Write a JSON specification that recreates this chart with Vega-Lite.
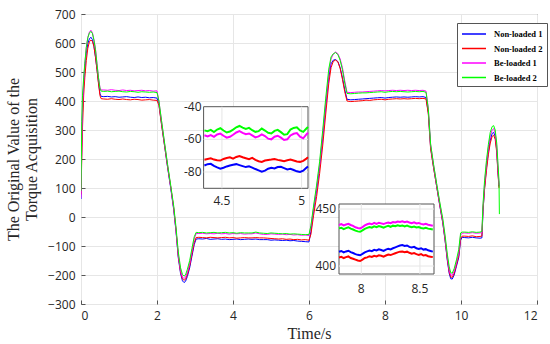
{
  "$schema": "https://vega.github.io/schema/vega-lite/v6.json",
  "width": 456,
  "height": 290,
  "autosize": {"type": "none"},
  "padding": {"left": 81, "top": 14, "right": 13, "bottom": 40},
  "background": "white",
  "config": {
    "view": {"stroke": "#555555", "strokeWidth": 1},
    "axis": {"labelFont": "Open Sans", "labelFontSize": 12, "labelColor": "#262626", "gridColor": "#e6e6e6", "domain": false},
    "text": {"font": "Open Sans", "fontSize": 12, "color": "#262626"}
  },
  "datasets": {
    "main": [
      {"t":0.00,"n1":62,"n2":78,"b1":66,"b2":90},
      {"t":0.02,"n1":240,"n2":200,"b1":260,"b2":330},
      {"t":0.04,"n1":360,"n2":310,"b1":380,"b2":420},
      {"t":0.07,"n1":455,"n2":420,"b1":465,"b2":480},
      {"t":0.10,"n1":510,"n2":480,"b1":525,"b2":530},
      {"t":0.14,"n1":565,"n2":540,"b1":585,"b2":585},
      {"t":0.18,"n1":598,"n2":582,"b1":620,"b2":618},
      {"t":0.22,"n1":614,"n2":604,"b1":637,"b2":634},
      {"t":0.26,"n1":620,"n2":610,"b1":644,"b2":640},
      {"t":0.30,"n1":612,"n2":606,"b1":636,"b2":633},
      {"t":0.34,"n1":590,"n2":588,"b1":612,"b2":610},
      {"t":0.38,"n1":553,"n2":552,"b1":580,"b2":578},
      {"t":0.42,"n1":510,"n2":508,"b1":530,"b2":528},
      {"t":0.46,"n1":465,"n2":460,"b1":482,"b2":480},
      {"t":0.50,"n1":425,"n2":418,"b1":445,"b2":442},
      {"t":0.53,"n1":416,"n2":408,"b1":438,"b2":434},
      {"t":0.6,"n1":415,"n2":407,"b1":438,"b2":433},
      {"t":0.7,"n1":416,"n2":406,"b1":437,"b2":434},
      {"t":0.8,"n1":414,"n2":408,"b1":439,"b2":432},
      {"t":0.9,"n1":415,"n2":406,"b1":437,"b2":433},
      {"t":1.0,"n1":413,"n2":405,"b1":436,"b2":434},
      {"t":1.1,"n1":414,"n2":407,"b1":438,"b2":432},
      {"t":1.2,"n1":415,"n2":405,"b1":436,"b2":431},
      {"t":1.3,"n1":413,"n2":404,"b1":437,"b2":433},
      {"t":1.4,"n1":412,"n2":406,"b1":435,"b2":432},
      {"t":1.5,"n1":414,"n2":405,"b1":436,"b2":430},
      {"t":1.6,"n1":412,"n2":403,"b1":437,"b2":432},
      {"t":1.7,"n1":413,"n2":404,"b1":435,"b2":431},
      {"t":1.8,"n1":411,"n2":405,"b1":436,"b2":430},
      {"t":1.9,"n1":412,"n2":403,"b1":434,"b2":431},
      {"t":2.0,"n1":410,"n2":402,"b1":435,"b2":429},
      {"t":2.05,"n1":390,"n2":385,"b1":400,"b2":400},
      {"t":2.12,"n1":320,"n2":318,"b1":330,"b2":332},
      {"t":2.20,"n1":245,"n2":245,"b1":252,"b2":255},
      {"t":2.28,"n1":170,"n2":172,"b1":178,"b2":180},
      {"t":2.36,"n1":100,"n2":105,"b1":105,"b2":110},
      {"t":2.44,"n1":25,"n2":30,"b1":30,"b2":38},
      {"t":2.50,"n1":-50,"n2":-45,"b1":-45,"b2":-35},
      {"t":2.56,"n1":-140,"n2":-135,"b1":-130,"b2":-120},
      {"t":2.62,"n1":-195,"n2":-190,"b1":-185,"b2":-175},
      {"t":2.67,"n1":-220,"n2":-213,"b1":-207,"b2":-198},
      {"t":2.71,"n1":-226,"n2":-218,"b1":-212,"b2":-204},
      {"t":2.75,"n1":-222,"n2":-215,"b1":-208,"b2":-200},
      {"t":2.80,"n1":-205,"n2":-198,"b1":-190,"b2":-180},
      {"t":2.86,"n1":-175,"n2":-168,"b1":-160,"b2":-150},
      {"t":2.92,"n1":-135,"n2":-128,"b1":-118,"b2":-108},
      {"t":2.98,"n1":-95,"n2":-88,"b1":-75,"b2":-68},
      {"t":3.03,"n1":-76,"n2":-71,"b1":-57,"b2":-53},
      {"t":3.1,"n1":-75,"n2":-70,"b1":-57,"b2":-54},
      {"t":3.2,"n1":-76,"n2":-71,"b1":-56,"b2":-53},
      {"t":3.3,"n1":-74,"n2":-72,"b1":-58,"b2":-55},
      {"t":3.4,"n1":-77,"n2":-70,"b1":-57,"b2":-54},
      {"t":3.5,"n1":-76,"n2":-71,"b1":-58,"b2":-53},
      {"t":3.6,"n1":-75,"n2":-72,"b1":-56,"b2":-55},
      {"t":3.7,"n1":-77,"n2":-71,"b1":-58,"b2":-54},
      {"t":3.8,"n1":-76,"n2":-70,"b1":-57,"b2":-53},
      {"t":3.9,"n1":-78,"n2":-72,"b1":-59,"b2":-55},
      {"t":4.0,"n1":-77,"n2":-71,"b1":-57,"b2":-54},
      {"t":4.1,"n1":-76,"n2":-73,"b1":-58,"b2":-56},
      {"t":4.2,"n1":-78,"n2":-72,"b1":-57,"b2":-54},
      {"t":4.3,"n1":-77,"n2":-71,"b1":-59,"b2":-55},
      {"t":4.4,"n1":-76,"n2":-72,"b1":-58,"b2":-55},
      {"t":4.5,"n1":-77,"n2":-72,"b1":-58,"b2":-55},
      {"t":4.6,"n1":-76,"n2":-71,"b1":-55,"b2":-52},
      {"t":4.7,"n1":-78,"n2":-72,"b1":-58,"b2":-55},
      {"t":4.8,"n1":-78,"n2":-72,"b1":-60,"b2":-56},
      {"t":4.9,"n1":-78,"n2":-73,"b1":-60,"b2":-57},
      {"t":5.0,"n1":-80,"n2":-74,"b1":-58,"b2":-55},
      {"t":5.1,"n1":-79,"n2":-75,"b1":-59,"b2":-56},
      {"t":5.2,"n1":-80,"n2":-76,"b1":-60,"b2":-57},
      {"t":5.3,"n1":-81,"n2":-75,"b1":-59,"b2":-58},
      {"t":5.4,"n1":-80,"n2":-77,"b1":-61,"b2":-57},
      {"t":5.5,"n1":-82,"n2":-76,"b1":-60,"b2":-59},
      {"t":5.6,"n1":-81,"n2":-78,"b1":-62,"b2":-58},
      {"t":5.7,"n1":-83,"n2":-77,"b1":-61,"b2":-59},
      {"t":5.8,"n1":-84,"n2":-79,"b1":-63,"b2":-60},
      {"t":5.9,"n1":-85,"n2":-78,"b1":-62,"b2":-61},
      {"t":6.0,"n1":-86,"n2":-80,"b1":-64,"b2":-60},
      {"t":6.05,"n1":-50,"n2":-60,"b1":-35,"b2":-30},
      {"t":6.12,"n1":20,"n2":5,"b1":30,"b2":38},
      {"t":6.20,"n1":90,"n2":70,"b1":100,"b2":110},
      {"t":6.28,"n1":170,"n2":150,"b1":180,"b2":192},
      {"t":6.36,"n1":270,"n2":245,"b1":285,"b2":298},
      {"t":6.44,"n1":380,"n2":355,"b1":395,"b2":410},
      {"t":6.52,"n1":480,"n2":460,"b1":495,"b2":510},
      {"t":6.58,"n1":528,"n2":515,"b1":545,"b2":552},
      {"t":6.64,"n1":541,"n2":537,"b1":562,"b2":563},
      {"t":6.70,"n1":543,"n2":541,"b1":569,"b2":567},
      {"t":6.76,"n1":536,"n2":535,"b1":563,"b2":560},
      {"t":6.82,"n1":515,"n2":512,"b1":545,"b2":540},
      {"t":6.88,"n1":480,"n2":475,"b1":515,"b2":508},
      {"t":6.94,"n1":440,"n2":432,"b1":470,"b2":462},
      {"t":7.00,"n1":406,"n2":400,"b1":430,"b2":426},
      {"t":7.1,"n1":404,"n2":398,"b1":429,"b2":425},
      {"t":7.2,"n1":405,"n2":399,"b1":430,"b2":426},
      {"t":7.3,"n1":406,"n2":400,"b1":431,"b2":427},
      {"t":7.4,"n1":407,"n2":401,"b1":431,"b2":428},
      {"t":7.5,"n1":408,"n2":403,"b1":432,"b2":428},
      {"t":7.6,"n1":409,"n2":402,"b1":433,"b2":429},
      {"t":7.7,"n1":410,"n2":404,"b1":434,"b2":430},
      {"t":7.8,"n1":411,"n2":405,"b1":435,"b2":431},
      {"t":7.9,"n1":412,"n2":406,"b1":436,"b2":432},
      {"t":8.0,"n1":410,"n2":404,"b1":435,"b2":430},
      {"t":8.1,"n1":412,"n2":406,"b1":436,"b2":432},
      {"t":8.2,"n1":413,"n2":407,"b1":437,"b2":433},
      {"t":8.3,"n1":414,"n2":408,"b1":436,"b2":432},
      {"t":8.4,"n1":413,"n2":407,"b1":437,"b2":433},
      {"t":8.5,"n1":414,"n2":408,"b1":436,"b2":432},
      {"t":8.6,"n1":413,"n2":407,"b1":437,"b2":431},
      {"t":8.7,"n1":414,"n2":408,"b1":436,"b2":432},
      {"t":8.8,"n1":415,"n2":409,"b1":437,"b2":433},
      {"t":8.9,"n1":414,"n2":408,"b1":436,"b2":432},
      {"t":9.0,"n1":415,"n2":409,"b1":437,"b2":433},
      {"t":9.08,"n1":412,"n2":407,"b1":434,"b2":430},
      {"t":9.14,"n1":360,"n2":355,"b1":375,"b2":372},
      {"t":9.20,"n1":240,"n2":235,"b1":250,"b2":252},
      {"t":9.28,"n1":170,"n2":168,"b1":178,"b2":180},
      {"t":9.36,"n1":105,"n2":105,"b1":112,"b2":115},
      {"t":9.44,"n1":40,"n2":42,"b1":48,"b2":52},
      {"t":9.52,"n1":-20,"n2":-18,"b1":-12,"b2":-5},
      {"t":9.58,"n1":-80,"n2":-78,"b1":-72,"b2":-62},
      {"t":9.64,"n1":-150,"n2":-145,"b1":-138,"b2":-128},
      {"t":9.69,"n1":-195,"n2":-190,"b1":-183,"b2":-172},
      {"t":9.73,"n1":-213,"n2":-207,"b1":-200,"b2":-192},
      {"t":9.77,"n1":-214,"n2":-208,"b1":-201,"b2":-194},
      {"t":9.82,"n1":-200,"n2":-195,"b1":-187,"b2":-178},
      {"t":9.88,"n1":-170,"n2":-165,"b1":-157,"b2":-148},
      {"t":9.94,"n1":-140,"n2":-134,"b1":-124,"b2":-112},
      {"t":9.99,"n1":-80,"n2":-75,"b1":-62,"b2":-55},
      {"t":10.03,"n1":-70,"n2":-66,"b1":-56,"b2":-52},
      {"t":10.1,"n1":-71,"n2":-66,"b1":-55,"b2":-52},
      {"t":10.2,"n1":-72,"n2":-67,"b1":-56,"b2":-53},
      {"t":10.3,"n1":-70,"n2":-65,"b1":-54,"b2":-51},
      {"t":10.4,"n1":-72,"n2":-68,"b1":-56,"b2":-53},
      {"t":10.5,"n1":-73,"n2":-67,"b1":-55,"b2":-52},
      {"t":10.55,"n1":-72,"n2":-66,"b1":-54,"b2":-50},
      {"t":10.58,"n1":20,"n2":25,"b1":35,"b2":45},
      {"t":10.62,"n1":100,"n2":95,"b1":115,"b2":125},
      {"t":10.67,"n1":170,"n2":160,"b1":185,"b2":195},
      {"t":10.72,"n1":225,"n2":215,"b1":240,"b2":250},
      {"t":10.77,"n1":265,"n2":255,"b1":280,"b2":292},
      {"t":10.82,"n1":288,"n2":278,"b1":300,"b2":312},
      {"t":10.86,"n1":292,"n2":282,"b1":305,"b2":315},
      {"t":10.90,"n1":278,"n2":268,"b1":290,"b2":300},
      {"t":10.94,"n1":230,"n2":222,"b1":245,"b2":255},
      {"t":10.97,"n1":160,"n2":155,"b1":175,"b2":190},
      {"t":11.00,"n1":105,"n2":100,"b1":110,"b2":125},
      {"t":11.01,"n1":null,"n2":null,"b1":null,"b2":10}
    ],
    "ins1": [
      {"t":4.39,"b2":-54.5,"b1":-57.5,"n2":-72.5,"n1":-76.0},
      {"t":4.41,"b2":-55.0,"b1":-58.2,"n2":-72.0,"n1":-75.2},
      {"t":4.43,"b2":-54.2,"b1":-57.4,"n2":-71.6,"n1":-75.0},
      {"t":4.45,"b2":-55.5,"b1":-58.5,"n2":-72.4,"n1":-76.3},
      {"t":4.47,"b2":-54.0,"b1":-57.0,"n2":-72.8,"n1":-77.2},
      {"t":4.49,"b2":-53.2,"b1":-56.5,"n2":-73.0,"n1":-78.0},
      {"t":4.51,"b2":-54.6,"b1":-57.8,"n2":-72.0,"n1":-77.4},
      {"t":4.53,"b2":-55.8,"b1":-59.0,"n2":-71.4,"n1":-76.6},
      {"t":4.55,"b2":-55.2,"b1":-58.4,"n2":-71.0,"n1":-76.0},
      {"t":4.57,"b2":-54.0,"b1":-57.2,"n2":-71.8,"n1":-75.6},
      {"t":4.59,"b2":-52.6,"b1":-55.8,"n2":-70.8,"n1":-75.2},
      {"t":4.61,"b2":-51.8,"b1":-55.0,"n2":-70.2,"n1":-75.8},
      {"t":4.63,"b2":-52.8,"b1":-56.0,"n2":-71.0,"n1":-76.4},
      {"t":4.65,"b2":-53.6,"b1":-56.8,"n2":-71.6,"n1":-77.0},
      {"t":4.67,"b2":-53.0,"b1":-56.4,"n2":-72.2,"n1":-76.5},
      {"t":4.69,"b2":-54.4,"b1":-57.6,"n2":-71.4,"n1":-77.3},
      {"t":4.71,"b2":-55.4,"b1":-58.8,"n2":-72.6,"n1":-78.2},
      {"t":4.73,"b2":-55.0,"b1":-58.2,"n2":-73.4,"n1":-79.0},
      {"t":4.75,"b2":-53.4,"b1":-57.0,"n2":-73.8,"n1":-79.8},
      {"t":4.77,"b2":-54.6,"b1":-58.0,"n2":-73.0,"n1":-79.2},
      {"t":4.79,"b2":-56.0,"b1":-59.6,"n2":-72.6,"n1":-78.0},
      {"t":4.81,"b2":-56.4,"b1":-60.0,"n2":-72.4,"n1":-77.4},
      {"t":4.83,"b2":-54.8,"b1":-58.4,"n2":-72.0,"n1":-77.8},
      {"t":4.85,"b2":-54.2,"b1":-57.8,"n2":-72.6,"n1":-77.0},
      {"t":4.87,"b2":-55.6,"b1":-59.0,"n2":-73.0,"n1":-76.8},
      {"t":4.89,"b2":-57.2,"b1":-60.4,"n2":-73.4,"n1":-77.6},
      {"t":4.91,"b2":-56.8,"b1":-60.0,"n2":-72.8,"n1":-78.4},
      {"t":4.93,"b2":-54.0,"b1":-57.6,"n2":-72.4,"n1":-78.0},
      {"t":4.95,"b2":-53.0,"b1":-56.6,"n2":-73.0,"n1":-78.8},
      {"t":4.97,"b2":-52.6,"b1":-56.2,"n2":-73.6,"n1":-79.6},
      {"t":4.99,"b2":-54.6,"b1":-58.4,"n2":-73.8,"n1":-80.0},
      {"t":5.01,"b2":-55.4,"b1":-59.4,"n2":-73.2,"n1":-79.2},
      {"t":5.03,"b2":-53.4,"b1":-57.0,"n2":-71.8,"n1":-77.4},
      {"t":5.04,"b2":-52.4,"b1":-56.0,"n2":-71.0,"n1":-76.6}
    ],
    "ins2": [
      {"t":7.81,"n1":412.5,"n2":407.5,"b1":436.0,"b2":433.0},
      {"t":7.83,"n1":413.2,"n2":408.0,"b1":436.8,"b2":433.6},
      {"t":7.85,"n1":412.0,"n2":407.0,"b1":435.6,"b2":432.4},
      {"t":7.87,"n1":412.8,"n2":407.8,"b1":436.4,"b2":433.2},
      {"t":7.89,"n1":413.4,"n2":408.4,"b1":437.0,"b2":434.0},
      {"t":7.91,"n1":412.2,"n2":407.0,"b1":436.0,"b2":432.8},
      {"t":7.93,"n1":411.4,"n2":406.4,"b1":435.2,"b2":432.0},
      {"t":7.95,"n1":410.4,"n2":405.6,"b1":434.0,"b2":431.0},
      {"t":7.97,"n1":409.8,"n2":404.8,"b1":433.4,"b2":430.4},
      {"t":7.99,"n1":409.4,"n2":404.4,"b1":433.0,"b2":430.0},
      {"t":8.01,"n1":410.6,"n2":405.6,"b1":434.2,"b2":431.2},
      {"t":8.03,"n1":412.0,"n2":407.0,"b1":435.6,"b2":432.6},
      {"t":8.05,"n1":412.8,"n2":407.6,"b1":436.6,"b2":433.4},
      {"t":8.07,"n1":413.6,"n2":408.6,"b1":437.2,"b2":434.2},
      {"t":8.09,"n1":413.0,"n2":408.0,"b1":436.6,"b2":433.6},
      {"t":8.11,"n1":414.2,"n2":409.0,"b1":437.8,"b2":434.8},
      {"t":8.13,"n1":413.6,"n2":408.4,"b1":437.0,"b2":434.0},
      {"t":8.15,"n1":414.6,"n2":409.4,"b1":438.0,"b2":435.0},
      {"t":8.17,"n1":414.0,"n2":409.0,"b1":437.4,"b2":434.4},
      {"t":8.19,"n1":413.2,"n2":408.2,"b1":436.8,"b2":433.6},
      {"t":8.21,"n1":414.4,"n2":409.2,"b1":437.6,"b2":434.6},
      {"t":8.23,"n1":415.2,"n2":410.0,"b1":438.2,"b2":435.2},
      {"t":8.25,"n1":414.6,"n2":409.6,"b1":437.6,"b2":434.4},
      {"t":8.27,"n1":415.6,"n2":410.4,"b1":438.6,"b2":435.4},
      {"t":8.29,"n1":416.4,"n2":411.2,"b1":438.2,"b2":435.0},
      {"t":8.31,"n1":417.2,"n2":412.0,"b1":439.0,"b2":435.8},
      {"t":8.33,"n1":418.0,"n2":412.6,"b1":438.6,"b2":435.2},
      {"t":8.35,"n1":418.4,"n2":412.8,"b1":439.2,"b2":435.6},
      {"t":8.37,"n1":417.6,"n2":412.2,"b1":438.4,"b2":434.8},
      {"t":8.39,"n1":418.0,"n2":412.6,"b1":439.0,"b2":435.4},
      {"t":8.41,"n1":416.8,"n2":411.6,"b1":438.2,"b2":434.6},
      {"t":8.43,"n1":416.2,"n2":410.8,"b1":437.6,"b2":434.0},
      {"t":8.45,"n1":416.8,"n2":411.4,"b1":438.4,"b2":434.6},
      {"t":8.47,"n1":415.6,"n2":410.4,"b1":437.4,"b2":433.8},
      {"t":8.49,"n1":415.0,"n2":409.8,"b1":437.8,"b2":434.2},
      {"t":8.51,"n1":415.6,"n2":410.4,"b1":437.0,"b2":433.4},
      {"t":8.53,"n1":414.4,"n2":409.2,"b1":436.4,"b2":433.0},
      {"t":8.55,"n1":414.8,"n2":409.6,"b1":437.0,"b2":433.6},
      {"t":8.57,"n1":413.8,"n2":408.6,"b1":436.2,"b2":432.8},
      {"t":8.59,"n1":413.2,"n2":408.2,"b1":435.8,"b2":432.4},
      {"t":8.61,"n1":412.6,"n2":407.8,"b1":435.4,"b2":432.0}
    ]
  },
  "layer": [
    {
      "data": {"name": "main"},
      "transform": [{"fold": ["n1", "n2", "b1", "b2"], "as": ["s", "v"]}],
      "mark": {"type": "line", "strokeWidth": 1, "clip": true},
      "encoding": {
        "x": {"field": "t", "type": "quantitative",
          "scale": {"domain": [0, 12], "nice": false},
          "axis": {"orient": "bottom", "values": [0, 2, 4, 6, 8, 10, 12], "grid": true, "tickSize": -4, "tickColor": "#555555", "labelPadding": 10,
            "title": "Time/s", "titleFont": "Liberation Serif", "titleFontSize": 16, "titleFontWeight": "normal", "titleColor": "#262626",
            "titleX": 228, "titleY": 34, "titleBaseline": "alphabetic", "titleAlign": "center"}},
        "y": {"field": "v", "type": "quantitative",
          "scale": {"domain": [-300, 700], "nice": false},
          "axis": {"orient": "left", "values": [-300, -200, -100, 0, 100, 200, 300, 400, 500, 600, 700], "grid": true, "tickSize": -4, "tickColor": "#555555", "labelPadding": 10,
            "title": ["The Original Value of the", "Torque Acquisition"], "titleFont": "Liberation Serif", "titleFontSize": 16, "titleFontWeight": "normal", "titleColor": "#262626",
            "titleAngle": -90, "titleX": -76, "titleY": 145, "titleAlign": "center", "titleBaseline": "top", "titleLineHeight": 18}},
        "color": {"field": "s", "type": "nominal",
          "scale": {"domain": ["n1", "n2", "b1", "b2"], "range": ["#0000ff", "#ff0000", "#ff00ff", "#00ff00"]},
          "legend": {"orient": "none", "legendX": 376, "legendY": 9, "title": null, "fillColor": "white", "strokeColor": "#555555",
            "padding": 4, "symbolType": "M-2,0H2", "symbolSize": 144, "symbolStrokeWidth": 1.5, "symbolOffset": 6, "labelOffset": 13,
            "labelFont": "Liberation Serif", "labelFontWeight": "bold", "labelFontSize": 8.5, "labelColor": "#000000", "rowPadding": 2.5,
            "labelExpr": "{'n1':'Non-loaded 1','n2':'Non-loaded 2','b1':'Be-loaded 1','b2':'Be-loaded 2'}[datum.label]"}}
      }
    },
    {
      "layer": [
        {
          "data": {"values": [{"x1": 4.385, "x2": 5.04, "y1": -90, "y2": -40}]},
          "mark": {"type": "rect", "fill": "white", "stroke": "#555555", "strokeWidth": 1},
          "encoding": {
            "x": {"field": "x1", "type": "quantitative", "scale": {"domain": [4.385, 5.04], "range": [122.6, 227], "nice": false, "zero": false}, "axis": null},
            "x2": {"field": "x2"},
            "y": {"field": "y1", "type": "quantitative", "scale": {"domain": [-90, -40], "range": [174.3, 92.7], "nice": false, "zero": false}, "axis": null},
            "y2": {"field": "y2"}
          }
        },
        {
          "data": {"values": [{"g": 4.5}, {"g": 5}]},
          "mark": {"type": "rule", "stroke": "#e6e6e6", "strokeWidth": 1},
          "encoding": {
            "x": {"field": "g", "type": "quantitative", "axis": null},
            "y": {"datum": -90, "type": "quantitative", "axis": null},
            "y2": {"datum": -40}
          }
        },
        {
          "data": {"values": [{"g": -80}, {"g": -60}]},
          "mark": {"type": "rule", "stroke": "#e6e6e6", "strokeWidth": 1},
          "encoding": {
            "y": {"field": "g", "type": "quantitative", "axis": null},
            "x": {"datum": 4.385, "type": "quantitative", "axis": null},
            "x2": {"datum": 5.04}
          }
        },
        {
          "data": {"name": "ins1"},
          "transform": [{"fold": ["n1", "n2", "b1", "b2"], "as": ["s", "v"]}],
          "mark": {"type": "line", "strokeWidth": 2},
          "encoding": {
            "x": {"field": "t", "type": "quantitative", "scale": {"domain": [4.385, 5.04], "range": [122.6, 227], "nice": false, "zero": false}, "axis": null},
            "y": {"field": "v", "type": "quantitative", "scale": {"domain": [-90, -40], "range": [174.3, 92.7], "nice": false, "zero": false}, "axis": null},
            "color": {"field": "s", "type": "nominal", "legend": null}
          }
        },
        {
          "data": {"values": [{"g": 4.5, "lab": "4.5"}, {"g": 5, "lab": "5"}]},
          "mark": {"type": "text", "dy": 13, "align": "center", "baseline": "middle"},
          "encoding": {
            "x": {"field": "g", "type": "quantitative", "axis": null},
            "y": {"datum": -90, "type": "quantitative", "axis": null},
            "text": {"field": "lab"}
          }
        },
        {
          "data": {"values": [{"g": -80, "lab": "-80"}, {"g": -60, "lab": "-60"}, {"g": -40, "lab": "-40"}]},
          "mark": {"type": "text", "dx": -2, "align": "right", "baseline": "middle"},
          "encoding": {
            "y": {"field": "g", "type": "quantitative", "axis": null},
            "x": {"datum": 4.385, "type": "quantitative", "axis": null},
            "text": {"field": "lab"}
          }
        }
      ],
      "resolve": {"scale": {"x": "shared", "y": "shared"}}
    },
    {
      "layer": [
        {
          "data": {"values": [{"x1": 7.81, "x2": 8.62, "y1": 393, "y2": 454.4}]},
          "mark": {"type": "rect", "fill": "white", "stroke": "#555555", "strokeWidth": 1},
          "encoding": {
            "x": {"field": "x1", "type": "quantitative", "scale": {"domain": [7.81, 8.62], "range": [258, 353], "nice": false, "zero": false}, "axis": null},
            "x2": {"field": "x2"},
            "y": {"field": "y1", "type": "quantitative", "scale": {"domain": [393, 454.4], "range": [260, 190], "nice": false, "zero": false}, "axis": null},
            "y2": {"field": "y2"}
          }
        },
        {
          "data": {"values": [{"g": 8}, {"g": 8.5}]},
          "mark": {"type": "rule", "stroke": "#e6e6e6", "strokeWidth": 1},
          "encoding": {
            "x": {"field": "g", "type": "quantitative", "axis": null},
            "y": {"datum": 393, "type": "quantitative", "axis": null},
            "y2": {"datum": 454.4}
          }
        },
        {
          "data": {"values": [{"g": 400}, {"g": 450}]},
          "mark": {"type": "rule", "stroke": "#e6e6e6", "strokeWidth": 1},
          "encoding": {
            "y": {"field": "g", "type": "quantitative", "axis": null},
            "x": {"datum": 7.81, "type": "quantitative", "axis": null},
            "x2": {"datum": 8.62}
          }
        },
        {
          "data": {"name": "ins2"},
          "transform": [{"fold": ["n1", "n2", "b1", "b2"], "as": ["s", "v"]}],
          "mark": {"type": "line", "strokeWidth": 2},
          "encoding": {
            "x": {"field": "t", "type": "quantitative", "scale": {"domain": [7.81, 8.62], "range": [258, 353], "nice": false, "zero": false}, "axis": null},
            "y": {"field": "v", "type": "quantitative", "scale": {"domain": [393, 454.4], "range": [260, 190], "nice": false, "zero": false}, "axis": null},
            "color": {"field": "s", "type": "nominal", "legend": null}
          }
        },
        {
          "data": {"values": [{"g": 8, "lab": "8"}, {"g": 8.5, "lab": "8.5"}]},
          "mark": {"type": "text", "dy": 15, "align": "center", "baseline": "middle"},
          "encoding": {
            "x": {"field": "g", "type": "quantitative", "axis": null},
            "y": {"datum": 393, "type": "quantitative", "axis": null},
            "text": {"field": "lab"}
          }
        },
        {
          "data": {"values": [{"g": 400, "lab": "400"}, {"g": 450, "lab": "450"}]},
          "mark": {"type": "text", "dx": -3, "align": "right", "baseline": "middle"},
          "encoding": {
            "y": {"field": "g", "type": "quantitative", "axis": null},
            "x": {"datum": 7.81, "type": "quantitative", "axis": null},
            "text": {"field": "lab"}
          }
        }
      ],
      "resolve": {"scale": {"x": "shared", "y": "shared"}}
    }
  ],
  "resolve": {"scale": {"x": "independent", "y": "independent", "color": "shared"}}
}
